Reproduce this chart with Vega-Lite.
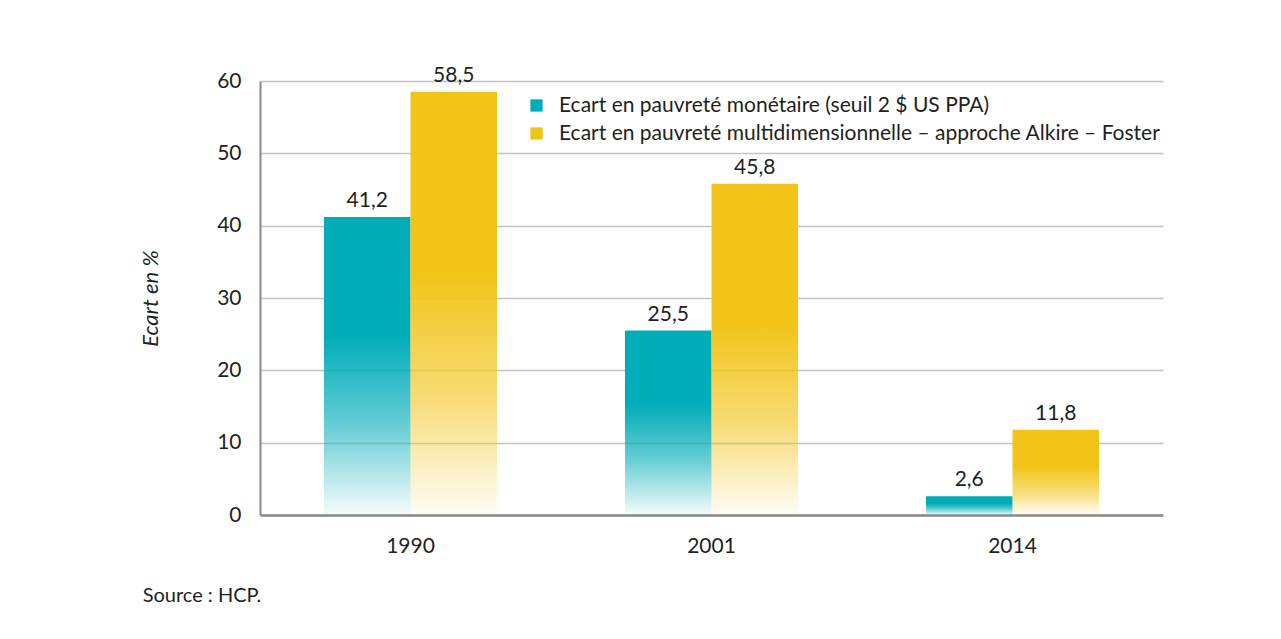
{
  "$schema": "https://vega.github.io/schema/vega-lite/v6.json",
  "width": 903,
  "height": 434,
  "autosize": {"type": "none"},
  "padding": {"left": 260, "top": 81, "right": 118, "bottom": 124},
  "background": "white",
  "title": {
    "text": "Source : HCP.",
    "orient": "bottom",
    "anchor": "start",
    "frame": "bounds",
    "offset": 30,
    "dx": 3,
    "font": "Lato",
    "fontSize": 20,
    "fontWeight": "normal",
    "color": "#231f20"
  },
  "data": {
    "values": [
      {"annee": "1990", "serie": "Ecart en pauvreté monétaire (seuil 2 $ US PPA)", "ecart": 41.2},
      {"annee": "1990", "serie": "Ecart en pauvreté multidimensionnelle – approche Alkire – Foster", "ecart": 58.5},
      {"annee": "2001", "serie": "Ecart en pauvreté monétaire (seuil 2 $ US PPA)", "ecart": 25.5},
      {"annee": "2001", "serie": "Ecart en pauvreté multidimensionnelle – approche Alkire – Foster", "ecart": 45.8},
      {"annee": "2014", "serie": "Ecart en pauvreté monétaire (seuil 2 $ US PPA)", "ecart": 2.6},
      {"annee": "2014", "serie": "Ecart en pauvreté multidimensionnelle – approche Alkire – Foster", "ecart": 11.8}
    ]
  },
  "encoding": {
    "x": {
      "field": "annee",
      "type": "nominal",
      "scale": {"paddingInner": 0.425, "paddingOuter": 0.2125},
      "axis": {
        "title": null,
        "labelAngle": 0,
        "ticks": false,
        "labelPadding": 20,
        "labelFont": "Lato",
        "labelFontSize": 21,
        "labelColor": "#231f20",
        "domainColor": "#8a8a8a",
        "domainWidth": 2.5,
        "grid": false
      }
    },
    "xOffset": {
      "field": "serie",
      "type": "nominal",
      "scale": {
        "domain": [
          "Ecart en pauvreté monétaire (seuil 2 $ US PPA)",
          "Ecart en pauvreté multidimensionnelle – approche Alkire – Foster"
        ],
        "paddingInner": 0,
        "paddingOuter": 0
      }
    },
    "y": {
      "field": "ecart",
      "type": "quantitative",
      "scale": {"domain": [0, 60], "nice": false},
      "axis": {
        "title": "Ecart en %",
        "titleFont": "Lato",
        "titleFontSize": 22,
        "titleFontStyle": "italic",
        "titleFontWeight": "normal",
        "titleColor": "#231f20",
        "titlePadding": 54,
        "values": [0, 10, 20, 30, 40, 50, 60],
        "ticks": false,
        "labelPadding": 19,
        "labelFont": "Lato",
        "labelFontSize": 21,
        "labelColor": "#231f20",
        "domainColor": "#8a8a8a",
        "domainWidth": 2,
        "gridColor": "#c4c4c4",
        "gridWidth": 1.5
      }
    }
  },
  "layer": [
    {
      "transform": [{"filter": "datum.serie === 'Ecart en pauvreté monétaire (seuil 2 $ US PPA)'"}],
      "mark": {
        "type": "bar",
        "fill": {
          "gradient": "linear", "x1": 0, "y1": 0, "x2": 0, "y2": 1,
          "stops": [
            {"offset": 0, "color": "rgba(0,173,185,1)"},
            {"offset": 0.4, "color": "rgba(0,173,185,1)"},
            {"offset": 0.7, "color": "rgba(0,173,185,0.6)"},
            {"offset": 1, "color": "rgba(0,173,185,0.04)"}
          ]
        }
      },
      "encoding": {
        "color": {
          "field": "serie",
          "type": "nominal",
          "scale": {
            "domain": [
              "Ecart en pauvreté monétaire (seuil 2 $ US PPA)",
              "Ecart en pauvreté multidimensionnelle – approche Alkire – Foster"
            ],
            "range": ["#00adb9", "#f2c417"]
          },
          "legend": {
            "title": null,
            "orient": "none",
            "legendX": 266,
            "legendY": 14,
            "padding": 0,
            "symbolType": "square",
            "symbolSize": 150,
            "symbolStrokeWidth": 0,
            "labelFont": "Lato",
            "labelFontSize": 21,
            "labelColor": "#231f20",
            "labelOffset": 12,
            "labelLimit": 800,
            "rowPadding": 6
          }
        }
      }
    },
    {
      "transform": [{"filter": "datum.serie !== 'Ecart en pauvreté monétaire (seuil 2 $ US PPA)'"}],
      "mark": {
        "type": "bar",
        "fill": {
          "gradient": "linear", "x1": 0, "y1": 0, "x2": 0, "y2": 1,
          "stops": [
            {"offset": 0, "color": "rgba(242,196,23,1)"},
            {"offset": 0.42, "color": "rgba(242,196,23,1)"},
            {"offset": 0.72, "color": "rgba(242,196,23,0.6)"},
            {"offset": 1, "color": "rgba(242,196,23,0.04)"}
          ]
        }
      },
      "encoding": {
        "color": {
          "field": "serie",
          "type": "nominal",
          "scale": {
            "domain": [
              "Ecart en pauvreté monétaire (seuil 2 $ US PPA)",
              "Ecart en pauvreté multidimensionnelle – approche Alkire – Foster"
            ],
            "range": ["#00adb9", "#f2c417"]
          }
        }
      }
    },
    {
      "mark": {
        "type": "text",
        "baseline": "bottom",
        "dy": -6,
        "font": "Lato",
        "fontSize": 21,
        "color": "#231f20"
      },
      "encoding": {
        "text": {"field": "ecart", "type": "quantitative", "format": ".1f"}
      }
    }
  ],
  "config": {
    "locale": {
      "number": {"decimal": ",", "thousands": " ", "grouping": [3], "currency": ["", " $"]}
    },
    "view": {"stroke": null}
  }
}
